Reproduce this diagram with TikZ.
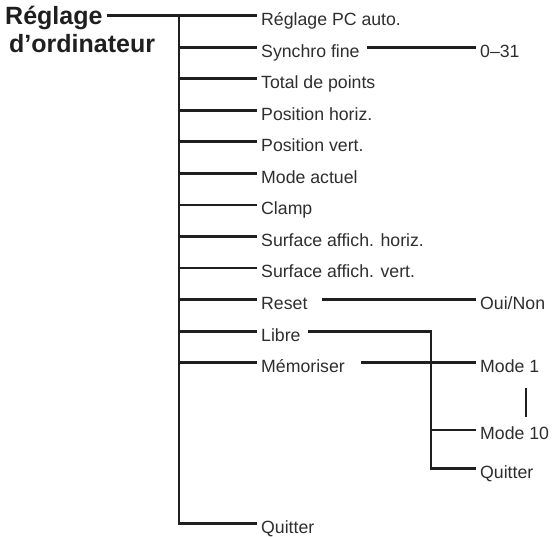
\documentclass[tikz,border=0pt]{standalone}
\usepackage{fontspec}
\setmainfont{Liberation Sans}
\begin{document}
\begin{tikzpicture}[x=1pt,y=-1pt,
  item/.style={anchor=west, inner xsep=4.5pt, inner ysep=0pt, text height=24pt, text depth=4.4pt,
    font=\fontsize{17.7pt}{20pt}\selectfont, text=black!82},
  subitem/.style={item, inner xsep=4pt},
  ttl/.style={anchor=base west, inner sep=0pt, font=\fontsize{25pt}{28pt}\selectfont\bfseries, text=black!88},
  wire/.style={line width=2.8pt, draw=black!88, line join=miter}]
\useasboundingbox (0,0) rectangle (554,537);
% title
\node[ttl] (t1) at (5,25) {Réglage};
\node[ttl] (t2) at (9,53) {d’ordinateur};
% main items
\node[item] (pc)   at (256.5,15.7)  {Réglage PC auto.};
\node[item] (syn)  at (256.5,47.3)  {Synchro fine};
\node[item] (tot)  at (256.5,78.8)  {Total de points};
\node[item] (ph)   at (256.5,110.4) {Position horiz.};
\node[item] (pv)   at (256.5,141.9) {Position vert.};
\node[item] (ma)   at (256.5,173.5) {Mode actuel};
\node[item] (cl)   at (256.5,205.0) {Clamp};
\node[item] (sh)   at (256.5,236.6) {Surface affich. horiz.};
\node[item] (sv)   at (256.5,268.1) {Surface affich. vert.};
\node[item] (rs)   at (256.5,299.7) {Reset};
\node[item] (lb)   at (256.5,331.2) {Libre};
\node[item] (mem)  at (256.5,362.8) {Mémoriser};
\node[item] (quit) at (256.5,523.3) {Quitter};
% right column
\node[subitem] (zero)  at (476,47.3)  {0–31};
\node[subitem] (oui)   at (476,299.7) {Oui/Non};
\node[subitem] (m1)    at (476,362.8) {Mode 1};
\node[subitem] (m10)   at (476,430.0) {Mode 10};
\node[subitem] (quit2) at (476,468.3) {Quitter};
% coordinates
\coordinate (trunktop) at (179,15.7);
\coordinate (subj) at (431,468.3);
\coordinate (bt) at (526,388);
\coordinate (bb) at (526,417);
% title connector and main trunk
\draw[wire] ([xshift=4pt]t1.east |- pc.west) -- (pc.west);
\draw[wire] (trunktop) |- (quit.west);
\foreach \n in {syn,tot,ph,pv,ma,cl,sh,sv,rs,lb,mem}
  \draw[wire] (trunktop |- \n.west) -- (\n.west);
% second level
\draw[wire] ([xshift=3pt]syn.east) -- (zero.west);
\draw[wire] ([xshift=10pt]rs.east) -- (oui.west);
\draw[wire] ([xshift=3pt]lb.east) -| (subj) -- (quit2.west);
\draw[wire] ([xshift=12pt]mem.east) -- (m1.west);
\draw[wire] (subj |- m10.west) -- (m10.west);
\draw[wire] (bt) -- (bb);
\end{tikzpicture}
\end{document}
